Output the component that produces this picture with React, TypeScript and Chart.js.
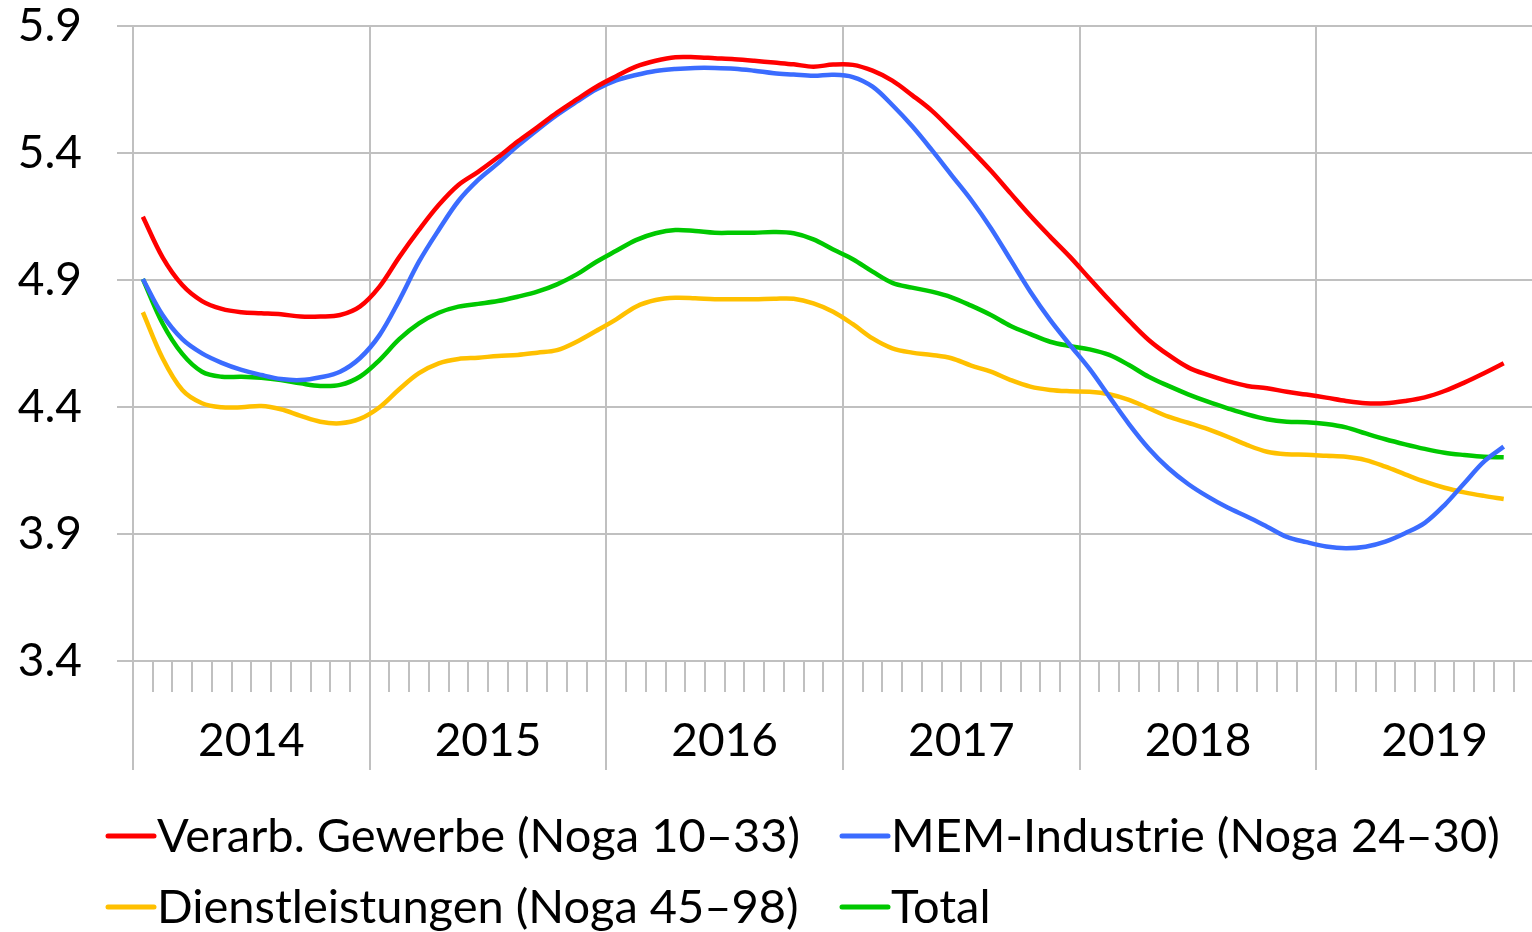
import React, { useEffect, useRef } from 'react';
import { Chart, registerables } from 'chart.js';

Chart.register(...registerables);

// ---- data ----
const years = ['2014', '2015', '2016', '2017', '2018', '2019'];
const monthCodes = ['01', '02', '03', '04', '05', '06', '07', '08', '09', '10', '11', '12'];
const yTickValues = [3.4, 3.9, 4.4, 4.9, 5.4, 5.9];

const verarbGewerbe = [
  5.149, 4.989, 4.880, 4.817, 4.786, 4.773, 4.769, 4.765, 4.756, 4.756, 4.762, 4.795,
  4.874, 4.990, 5.097, 5.195, 5.274, 5.326, 5.383, 5.445, 5.501, 5.559, 5.611, 5.661,
  5.702, 5.740, 5.763, 5.777, 5.777, 5.773, 5.769, 5.763, 5.756, 5.749, 5.740, 5.748,
  5.747, 5.724, 5.685, 5.628, 5.567, 5.491, 5.412, 5.330, 5.241, 5.153, 5.071, 4.992,
  4.906, 4.821, 4.740, 4.664, 4.605, 4.556, 4.526, 4.502, 4.483, 4.474, 4.460, 4.449,
  4.437, 4.424, 4.415, 4.415, 4.424, 4.438, 4.463, 4.496, 4.533, 4.572,
];

const memIndustrie = [
  4.904, 4.762, 4.667, 4.611, 4.574, 4.546, 4.526, 4.510, 4.506, 4.517, 4.539, 4.592,
  4.683, 4.820, 4.972, 5.097, 5.211, 5.294, 5.359, 5.428, 5.491, 5.550, 5.602, 5.651,
  5.686, 5.707, 5.723, 5.731, 5.735, 5.735, 5.732, 5.724, 5.714, 5.709, 5.704, 5.708,
  5.699, 5.661, 5.589, 5.506, 5.412, 5.313, 5.215, 5.104, 4.979, 4.854, 4.743, 4.645,
  4.550, 4.441, 4.333, 4.237, 4.159, 4.097, 4.047, 4.004, 3.968, 3.929, 3.889, 3.868,
  3.851, 3.844, 3.850, 3.870, 3.903, 3.944, 4.014, 4.100, 4.185, 4.244,
];

const dienstleistungen = [
  4.773, 4.592, 4.467, 4.415, 4.399, 4.399, 4.404, 4.391, 4.365, 4.342, 4.336, 4.353,
  4.399, 4.470, 4.533, 4.572, 4.589, 4.594, 4.601, 4.605, 4.614, 4.624, 4.657, 4.700,
  4.745, 4.795, 4.821, 4.830, 4.828, 4.824, 4.824, 4.824, 4.826, 4.826, 4.808, 4.775,
  4.726, 4.670, 4.631, 4.614, 4.605, 4.592, 4.563, 4.539, 4.506, 4.480, 4.467, 4.462,
  4.460, 4.450, 4.428, 4.395, 4.362, 4.338, 4.313, 4.283, 4.250, 4.224, 4.214, 4.212,
  4.208, 4.204, 4.191, 4.165, 4.135, 4.106, 4.082, 4.064, 4.050, 4.038,
];

const total = [
  4.904, 4.729, 4.609, 4.539, 4.519, 4.519, 4.515, 4.506, 4.493, 4.483, 4.487, 4.519,
  4.585, 4.667, 4.729, 4.771, 4.795, 4.806, 4.817, 4.834, 4.854, 4.883, 4.922, 4.972,
  5.015, 5.057, 5.084, 5.097, 5.093, 5.086, 5.086, 5.086, 5.089, 5.084, 5.060, 5.020,
  4.982, 4.933, 4.889, 4.870, 4.854, 4.832, 4.799, 4.762, 4.719, 4.687, 4.657, 4.640,
  4.627, 4.605, 4.565, 4.519, 4.483, 4.450, 4.421, 4.395, 4.371, 4.352, 4.342, 4.340,
  4.333, 4.320, 4.296, 4.273, 4.253, 4.235, 4.220, 4.211, 4.204, 4.202,
];

const seriesNames = [
  'Verarb. Gewerbe (Noga 10–33)',
  'MEM-Industrie (Noga 24–30)',
  'Dienstleistungen (Noga 45–98)',
  'Total',
];
const seriesData = [verarbGewerbe, memIndustrie, dienstleistungen, total];
const seriesColors = ['#ff0000', '#3b6cff', '#ffc000', '#00c800'];

// ---- styles ----
const FONT_FAMILY = 'Lato, "Open Sans", sans-serif';
const FONT_SIZE = 46;
const LEGEND_FONT_SIZE = 47;
const GRID = '#c0c0c0';

const categories = years.flatMap((y) => monthCodes.map((m) => `${y}-${m}`));

const extrasPlugin = {
  id: 'extras',
  afterDraw(chart: any) {
    const { ctx, chartArea } = chart;
    const x = chart.scales.x;
    ctx.save();
    // year separator extensions below the plot
    ctx.strokeStyle = GRID;
    ctx.lineWidth = 2;
    for (let k = 0; k < years.length; k++) {
      const px = Math.round(x.getPixelForValue(k * 12 - 0.5));
      ctx.beginPath();
      ctx.moveTo(px, chartArea.bottom);
      ctx.lineTo(px, 770);
      ctx.stroke();
    }
    // year labels
    ctx.fillStyle = '#000';
    ctx.font = `${FONT_SIZE}px ${FONT_FAMILY}`;
    ctx.textAlign = 'center';
    ctx.textBaseline = 'middle';
    years.forEach((yr, k) => {
      const cx = x.getPixelForValue(k * 12 + 5.5);
      ctx.fillText(yr, cx, 741);
    });
    // legend
    const spots = [
      [108, 836],
      [842, 836],
      [108, 907],
      [842, 907],
    ];
    ctx.font = `${LEGEND_FONT_SIZE}px ${FONT_FAMILY}`;
    ctx.textAlign = 'left';
    seriesNames.forEach((name, i) => {
      const [lx, ly] = spots[i];
      ctx.strokeStyle = seriesColors[i];
      ctx.lineWidth = 5;
      ctx.lineCap = 'round';
      ctx.beginPath();
      ctx.moveTo(lx, ly);
      ctx.lineTo(lx + 46, ly);
      ctx.stroke();
      ctx.fillStyle = '#000';
      ctx.fillText(name, lx + 49, ly + 1);
    });
    ctx.restore();
  },
};

export default function App() {
  const canvasRef = useRef<HTMLCanvasElement | null>(null);

  useEffect(() => {
    document.body.style.margin = '0';
    let chart: Chart | null = null;
    let cancelled = false;
    const build = () => {
      if (cancelled || !canvasRef.current) return;
      chart = new Chart(canvasRef.current, {
        type: 'line',
        data: {
          labels: categories,
          datasets: seriesData.map((d, i) => ({
            label: seriesNames[i],
            data: d,
            borderColor: seriesColors[i],
            backgroundColor: seriesColors[i],
            borderWidth: 4.5,
            pointRadius: 0,
            tension: 0.35,
            fill: false,
          })),
        },
        options: {
          responsive: false,
          animation: false,
          devicePixelRatio: 1,
          layout: { padding: { top: 26, right: 7, bottom: 0, left: 0 } },
          plugins: {
            legend: { display: false },
            tooltip: { enabled: false },
          },
          scales: {
            x: {
              type: 'category',
              offset: true,
              grid: {
                offset: true,
                color: (c: any) => (c.index % 12 === 0 ? GRID : 'rgba(0,0,0,0)'),
                tickColor: GRID,
                lineWidth: 2,
                tickLength: 31,
                drawTicks: true,
              },
              border: { display: true, color: GRID, width: 2 },
              ticks: { display: false, autoSkip: false, maxRotation: 0 },
              afterFit: (s: any) => {
                s.height = 271;
                s.paddingLeft = 0;
                s.paddingRight = 0;
              },
            },
            y: {
              min: 3.4,
              max: 5.9,
              afterBuildTicks: (s: any) => {
                s.ticks = yTickValues.map((v) => ({ value: v }));
              },
              afterFit: (s: any) => {
                s.width = 133;
                s.paddingTop = 0;
                s.paddingBottom = 0;
              },
              grid: { color: GRID, lineWidth: 2, tickLength: 16, drawTicks: true },
              border: { display: true, color: GRID, width: 2 },
              ticks: {
                color: '#000',
                padding: 35,
                font: { family: FONT_FAMILY, size: FONT_SIZE },
                callback: (v: any) => Number(v).toFixed(1),
              },
            },
          },
        },
        plugins: [extrasPlugin],
      });
    };
    const fonts: any = (document as any).fonts;
    if (fonts && fonts.load) {
      fonts.load(`${FONT_SIZE}px Lato`).then(build, build);
    } else {
      build();
    }
    return () => {
      cancelled = true;
      if (chart) chart.destroy();
    };
  }, []);

  return (
    <div style={{ width: 1532, height: 932, overflow: 'hidden', position: 'relative', background: '#fff' }}>
      <canvas ref={canvasRef} width={1560} height={932} style={{ display: 'block' }} />
    </div>
  );
}
